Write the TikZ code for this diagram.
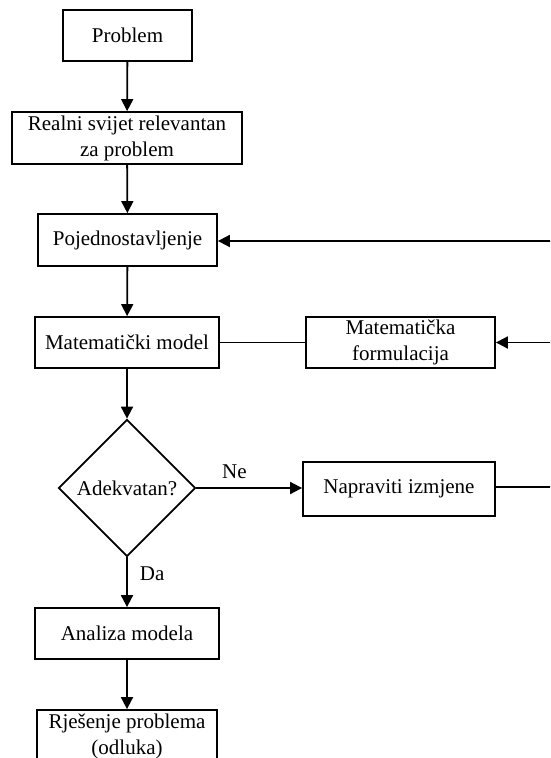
\documentclass[tikz,border=0pt]{standalone}
\usepackage{fontspec}
\setmainfont{Liberation Serif}
\usetikzlibrary{arrows.meta,shapes.geometric}
\begin{document}
\begin{tikzpicture}[x=1pt,y=-1pt,
  every node/.style={font=\fontsize{21}{26}\selectfont},
  box/.style={draw,line width=1.8pt,rectangle,inner sep=0pt,align=center},
  decision/.style={draw,line width=1.8pt,diamond,aspect=1,inner sep=0pt,
    minimum width=137pt,minimum height=137pt},
  link/.style={line width=1.8pt},
  flow/.style={link,-{Triangle[length=12pt,width=12pt]}},
  tag/.style={inner sep=0pt}
]
\clip (0,0) rectangle (550,758);

% main column
\node[box,minimum width=129pt,minimum height=51pt] (problem) at (127.5,35.5) {Problem};
\node[box,minimum width=230pt,minimum height=52pt] (world) at (127,138) {Realni svijet relevantan\\za problem};
\node[box,minimum width=179pt,minimum height=52pt] (simpl) at (127.5,240) {Pojednostavljenje};
\node[box,minimum width=184pt,minimum height=51pt] (model) at (127,342.5) {Matematički model};
\node[decision] (adequate) at (127,488) {Adekvatan?};
\node[box,minimum width=184pt,minimum height=51pt] (analysis) at (127,633.5) {Analiza modela};
\node[box,minimum width=180pt,minimum height=52pt] (solution) at (127,736) {Rješenje problema\\(odluka)};

% right column
\node[box,minimum width=189pt,minimum height=51pt] (formul) at (400.5,342.5) {Matematička\\formulacija};
\node[box,minimum width=192pt,minimum height=54pt] (changes) at (399,489) {Napraviti izmjene};

% free ends at the right border
\coordinate (fbA) at (551,241);
\coordinate (fbB) at (551,342.5);
\coordinate (fbC) at (551,487);

% connectors
\draw[flow] (problem) -- (world);
\draw[flow] (world) -- (simpl);
\draw[flow] (simpl) -- (model);
\draw[flow] (model) -- (adequate);
\draw[flow] (adequate) -- node[tag,pos=0.33,right=12pt] {Da} (analysis);
\draw[flow] (adequate.east) -- node[tag,above=8pt,pos=0.36] {Ne} (changes.west |- adequate.east);
\draw[flow] (analysis) -- (solution);
\draw[link] (formul) -- (model);
\draw[flow] (fbA) -- (simpl.east |- fbA);
\draw[flow] (fbB) -- (formul);
\draw[link] (changes.east |- fbC) -- (fbC);
\end{tikzpicture}
\end{document}
